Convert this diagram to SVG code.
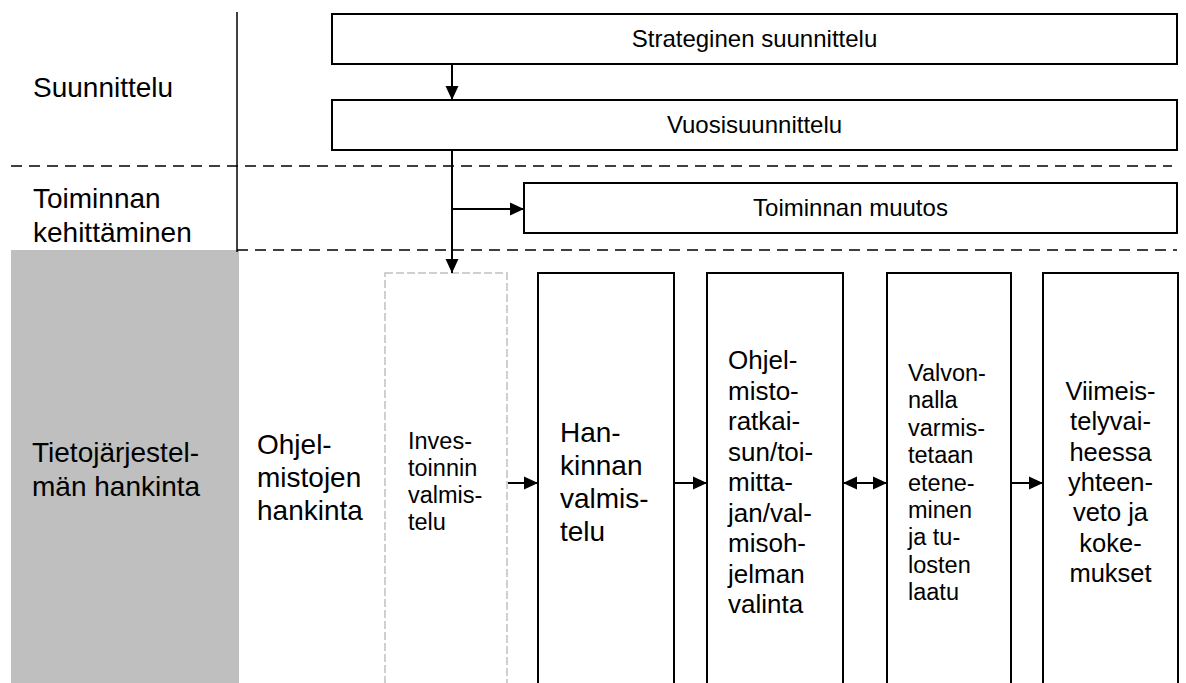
<svg xmlns="http://www.w3.org/2000/svg" width="1186" height="683" viewBox="0 0 1186 683">
<style>
  text { font-family: "Liberation Sans", Arial, sans-serif; fill: #000; }
  .box { fill: #fff; stroke: #000; stroke-width: 2; }
  .dbox { fill: #fff; stroke: #c0c0c0; stroke-width: 1.5; stroke-dasharray: 8 3; }
  .sep { stroke: #000; stroke-width: 1.6; stroke-dasharray: 11 7; fill: none; }
  .conn { stroke: #000; stroke-width: 2; fill: none; }
  .lbl { font-size: 28px; }
  .top { font-size: 24px; text-anchor: middle; }
</style>
<defs>
  <marker id="ah" viewBox="0 0 14 14" markerWidth="14" markerHeight="14" refX="14" refY="7" orient="auto-start-reverse" markerUnits="userSpaceOnUse">
    <path d="M0,0.5 L14,7 L0,13.5 z" fill="#000"/>
  </marker>
</defs>

<g id="background">
  <rect x="11" y="250" width="228" height="440" fill="#bfbfbf"/>
  <line x1="237" y1="12" x2="237" y2="252" stroke="#000" stroke-width="1.5"/>
  <line class="sep" x1="11" y1="166" x2="1172" y2="166"/>
  <line class="sep" x1="237" y1="250" x2="1177" y2="250"/>
</g>

<g id="lane-suunnittelu">
  <text class="lbl" x="33" y="97">Suunnittelu</text>
</g>
<g id="lane-toiminnan">
  <text class="lbl" x="33" y="208">Toiminnan</text>
  <text class="lbl" x="33" y="242">kehittäminen</text>
</g>
<g id="lane-tietojarjestelma">
  <text class="lbl" x="32" y="462">Tietojärjestel-</text>
  <text class="lbl" x="32" y="496">män hankinta</text>
</g>
<g id="lane-ohjelmistojen">
  <text class="lbl" x="257" y="454">Ohjel-</text>
  <text class="lbl" x="257" y="487">mistojen</text>
  <text class="lbl" x="257" y="520">hankinta</text>
</g>

<g id="strateginen">
  <rect class="box" x="332" y="14" width="845" height="50"/>
  <text class="top" x="754.5" y="47">Strateginen suunnittelu</text>
</g>
<g id="vuosisuunnittelu">
  <rect class="box" x="332" y="100" width="845" height="50"/>
  <text class="top" x="754.5" y="133">Vuosisuunnittelu</text>
</g>
<g id="toiminnan-muutos">
  <rect class="box" x="524" y="183" width="653" height="50"/>
  <text class="top" x="850.5" y="216">Toiminnan muutos</text>
</g>

<g id="investoinnin">
  <rect class="dbox" x="385" y="273" width="122" height="430"/>
  <g font-size="23.5">
    <text x="408" y="449">Inves-</text>
    <text x="408" y="476">toinnin</text>
    <text x="408" y="503">valmis-</text>
    <text x="408" y="530">telu</text>
  </g>
</g>
<g id="hankinnan">
  <rect class="box" x="538" y="273" width="136" height="430"/>
  <g font-size="28">
    <text x="560" y="442">Han-</text>
    <text x="560" y="475">kinnan</text>
    <text x="560" y="508">valmis-</text>
    <text x="560" y="541">telu</text>
  </g>
</g>
<g id="ohjelmistoratkaisu">
  <rect class="box" x="707" y="273" width="136" height="430"/>
  <g font-size="26">
    <text x="728" y="369">Ohjel-</text>
    <text x="728" y="399.5">misto-</text>
    <text x="728" y="430">ratkai-</text>
    <text x="728" y="460.5">sun/toi-</text>
    <text x="728" y="491">mitta-</text>
    <text x="728" y="521.5">jan/val-</text>
    <text x="728" y="552">misoh-</text>
    <text x="728" y="582.5">jelman</text>
    <text x="728" y="613">valinta</text>
  </g>
</g>
<g id="valvonta">
  <rect class="box" x="887" y="273" width="124" height="430"/>
  <g font-size="23.5">
    <text x="908" y="381">Valvon-</text>
    <text x="908" y="408.4">nalla</text>
    <text x="908" y="435.8">varmis-</text>
    <text x="908" y="463.2">tetaan</text>
    <text x="908" y="490.6">etene-</text>
    <text x="908" y="518">minen</text>
    <text x="908" y="545.4">ja tu-</text>
    <text x="908" y="572.8">losten</text>
    <text x="908" y="600.2">laatu</text>
  </g>
</g>
<g id="viimeistely">
  <rect class="box" x="1043" y="273" width="135" height="430"/>
  <g font-size="25.5" text-anchor="middle">
    <text x="1110.5" y="400">Viimeis-</text>
    <text x="1110.5" y="430.3">telyvai-</text>
    <text x="1110.5" y="460.6">heessa</text>
    <text x="1110.5" y="490.9">yhteen-</text>
    <text x="1110.5" y="521.2">veto ja</text>
    <text x="1110.5" y="551.5">koke-</text>
    <text x="1110.5" y="581.8">mukset</text>
  </g>
</g>

<g id="connectors">
  <line class="conn" x1="452" y1="64" x2="452" y2="100" marker-end="url(#ah)"/>
  <line class="conn" x1="452" y1="150" x2="452" y2="273" marker-end="url(#ah)"/>
  <line class="conn" x1="452" y1="209" x2="524" y2="209" marker-end="url(#ah)"/>
  <line class="conn" x1="508" y1="483" x2="538" y2="483" marker-end="url(#ah)"/>
  <line class="conn" x1="674" y1="483" x2="707" y2="483" marker-end="url(#ah)"/>
  <line class="conn" x1="843" y1="483" x2="887" y2="483" marker-start="url(#ah)" marker-end="url(#ah)"/>
  <line class="conn" x1="1011" y1="483" x2="1043" y2="483" marker-end="url(#ah)"/>
</g>
</svg>
